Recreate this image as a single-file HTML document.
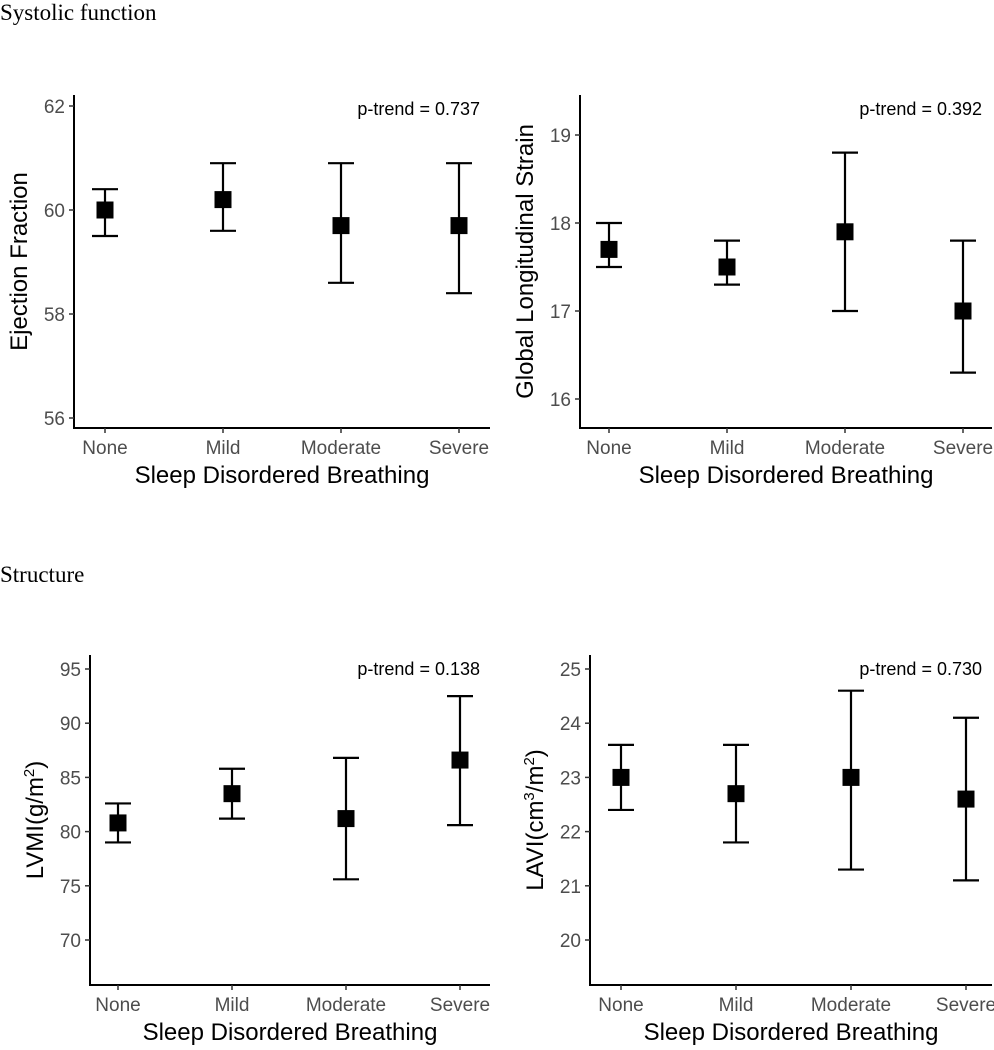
<!DOCTYPE html>
<html><head><meta charset="utf-8"><style>
body{margin:0;background:#fff;}
svg{display:block;font-family:"Liberation Sans",Arial,sans-serif;}
</style></head><body>
<svg id="c" width="994" height="1050">
<text x="0" y="20" font-family="Liberation Serif,serif" font-size="23">Systolic function</text>
<text x="0" y="582" font-family="Liberation Serif,serif" font-size="23">Structure</text>
</svg>
<script>
const categories=["None","Mild","Moderate","Severe"];
const efMean=[60.0,60.2,59.7,59.7];
const efLow=[59.5,59.6,58.6,58.4];
const efHigh=[60.4,60.9,60.9,60.9];
const efTicks=[56,58,60,62];
const glsMean=[17.7,17.5,17.9,17.0];
const glsLow=[17.5,17.3,17.0,16.3];
const glsHigh=[18.0,17.8,18.8,17.8];
const glsTicks=[16,17,18,19];
const lvmiMean=[80.8,83.5,81.2,86.6];
const lvmiLow=[79.0,81.2,75.6,80.6];
const lvmiHigh=[82.6,85.8,86.8,92.5];
const lvmiTicks=[70,75,80,85,90,95];
const laviMean=[23.0,22.7,23.0,22.6];
const laviLow=[22.4,21.8,21.3,21.1];
const laviHigh=[23.6,23.6,24.6,24.1];
const laviTicks=[20,21,22,23,24,25];
const pTrends=["p-trend = 0.737","p-trend = 0.392","p-trend = 0.138","p-trend = 0.730"];

const svg=document.getElementById('c');
const NS="http://www.w3.org/2000/svg";
function mk(t,a,txt){const e=document.createElementNS(NS,t);for(const k in a)e.setAttribute(k,a[k]);if(txt!=null)e.innerHTML=txt;svg.appendChild(e);return e;}

function panel(id,o,mean,lo,hi,ticks,ytitle,pt){
  const ys=v=>o.yA+(v-o.vA)*(o.yB-o.yA)/(o.vB-o.vA);
  const xs=i=>o.x0+i*o.dx;
  let e=mk('line',{x1:o.ax,x2:o.ax,y1:o.top,y2:o.bot+1,stroke:'#000','stroke-width':2});
  
  e=mk('line',{x1:o.ax-1,x2:o.right,y1:o.bot,y2:o.bot,stroke:'#000','stroke-width':2});
  
  ticks.forEach(t=>{
    const y=ys(t);
    mk('line',{x1:o.ax-5,x2:o.ax,y1:y,y2:y,stroke:'#333','stroke-width':1.5});
    e=mk('text',{x:o.ax-9,y:y+7,'text-anchor':'end','font-size':19,fill:'#4d4d4d'},t);
    
  });
  categories.forEach((c,i)=>{
    const x=xs(i);
    mk('line',{x1:x,x2:x,y1:o.bot,y2:o.bot+5,stroke:'#333','stroke-width':1.5});
    e=mk('text',{x:x,y:o.bot+26,'text-anchor':'middle','font-size':19,fill:'#4d4d4d'},c);
    
    const g=mk('g',{});
    
    const yl=ys(lo[i]),yh=ys(hi[i]),ym=ys(mean[i]);
    [[x,yl,x,yh],[x-13,yl,x+13,yl],[x-13,yh,x+13,yh]].forEach(p=>{
      const l=document.createElementNS(NS,'line');
      l.setAttribute('x1',p[0]);l.setAttribute('y1',p[1]);l.setAttribute('x2',p[2]);l.setAttribute('y2',p[3]);
      l.setAttribute('stroke','#000');l.setAttribute('stroke-width',2.2);g.appendChild(l);});
    e=mk('rect',{x:x-8.5,y:ym-8.5,width:17,height:17,fill:'#000'});
    
  });
  e=mk('text',{x:(o.ax+o.right)/2,y:o.bot+55,'text-anchor':'middle','font-size':24},'Sleep Disordered Breathing');
  
  const cy=(o.top+o.bot)/2;
  e=mk('text',{x:0,y:0,'text-anchor':'middle','font-size':24,transform:`translate(${o.ax-47},${cy}) rotate(-90)`},ytitle);
  
  e=mk('text',{x:o.right-10,y:o.top+20,'text-anchor':'end','font-size':18},pt);
  
}
panel('ef',{ax:74,right:490,top:95,bot:428,x0:105,dx:118,yA:106,vA:62,yB:418,vB:56},efMean,efLow,efHigh,efTicks,'Ejection Fraction',pTrends[0]);
panel('gls',{ax:580,right:992,top:95,bot:428,x0:609,dx:118,yA:135,vA:19,yB:399,vB:16},glsMean,glsLow,glsHigh,glsTicks,'Global Longitudinal Strain',pTrends[1]);
panel('lvmi',{ax:90,right:490,top:655,bot:985,x0:118,dx:114,yA:669,vA:95,yB:940,vB:70},lvmiMean,lvmiLow,lvmiHigh,lvmiTicks,'LVMI(g/m<tspan dy="-9" font-size="15">2</tspan><tspan dy="9">)</tspan>',pTrends[2]);
panel('lavi',{ax:590,right:992,top:655,bot:985,x0:621,dx:115,yA:669,vA:25,yB:940,vB:20},laviMean,laviLow,laviHigh,laviTicks,'LAVI(cm<tspan dy="-9" font-size="15">3</tspan><tspan dy="9">/m</tspan><tspan dy="-9" font-size="15">2</tspan><tspan dy="9">)</tspan>',pTrends[3]);
</script>
</body></html>
